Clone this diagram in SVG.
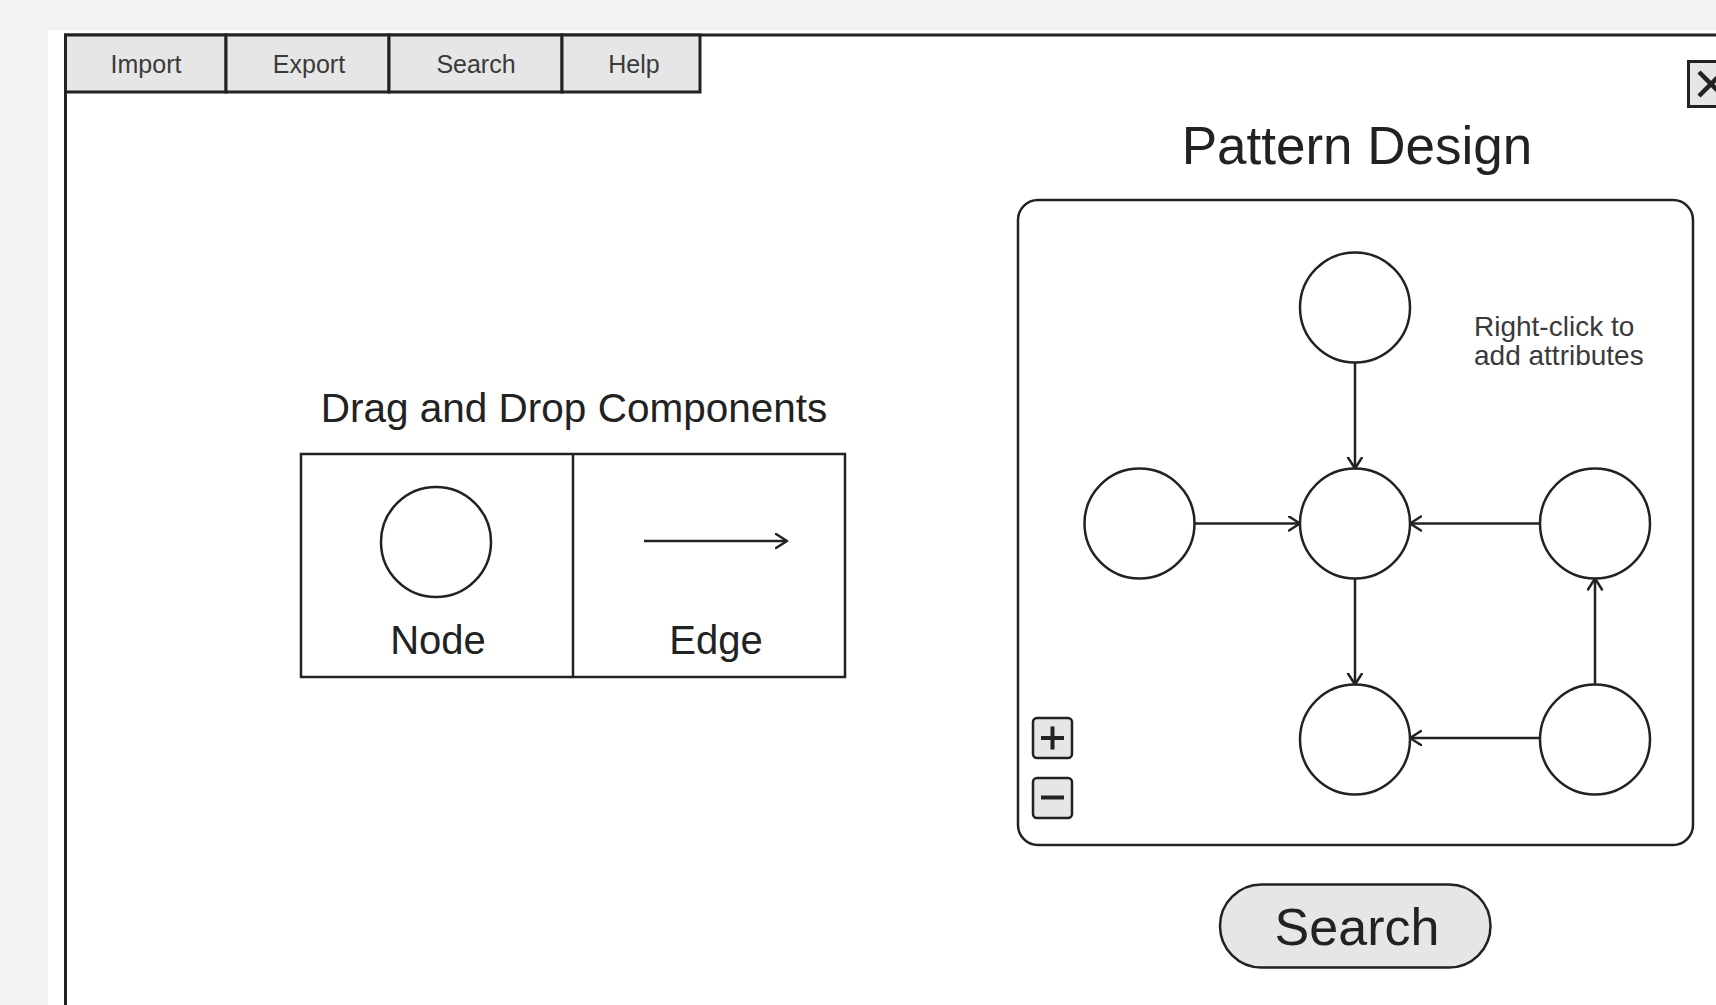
<svg xmlns="http://www.w3.org/2000/svg" width="1716" height="1005" viewBox="0 0 1716 1005">
<style>
.ln{fill:none;stroke:#222;stroke-width:2.5}
.nd{fill:#fff;stroke:#222;stroke-width:2.5}
.tab{fill:#e6e6e6;stroke:#222;stroke-width:3}
.tt{font-family:"Liberation Sans",Arial,sans-serif;font-size:25px;fill:#3a3a3a;text-anchor:middle}
.t{font-family:"Liberation Sans",Arial,sans-serif;fill:#222;text-anchor:middle}
.note{font-family:"Liberation Sans",Arial,sans-serif;font-size:28px;fill:#3a3a3a}
.edge{fill:none;stroke:#222;stroke-width:2.5;marker-end:url(#arr)}
</style>
<defs>
<marker id="arr" markerUnits="userSpaceOnUse" markerWidth="16" markerHeight="18" refX="12" refY="8" orient="auto">
<path d="M1,1 L12,8 L1,15" fill="none" stroke="#222" stroke-width="2.5" stroke-linecap="round" stroke-linejoin="round"/>
</marker>
</defs>
<rect x="0" y="0" width="1716" height="1005" fill="#f2f2f2"/>
<rect x="48" y="30" width="1668" height="975" fill="#fff"/>
<g id="window">
<rect x="65.5" y="35" width="1700" height="1000" fill="#fff" stroke="#222" stroke-width="3"/>
</g>
<g id="menu">
<rect class="tab" x="65.5" y="35" width="160.5" height="57"/>
<rect class="tab" x="226" y="35" width="163" height="57"/>
<rect class="tab" x="389" y="35" width="173" height="57"/>
<rect class="tab" x="562" y="35" width="138" height="57"/>
<text class="tt" x="146" y="73">Import</text>
<text class="tt" x="309" y="73">Export</text>
<text class="tt" x="476" y="73">Search</text>
<text class="tt" x="634" y="73">Help</text>
</g>
<g id="close">
<rect x="1688.5" y="61.5" width="46" height="45" fill="#e6e6e6" stroke="#222" stroke-width="3"/>
<path d="M1699,72 L1723,96 M1723,72 L1699,96" stroke="#222" stroke-width="4.5" fill="none"/>
</g>
<g id="components">
<text class="t" x="574" y="422" font-size="40.5">Drag and Drop Components</text>
<rect class="ln" x="301" y="454" width="544" height="223"/>
<line class="ln" x1="573" y1="454" x2="573" y2="677"/>
<circle class="nd" cx="436" cy="542" r="55"/>
<text class="t" x="438" y="654" font-size="40">Node</text>
<line class="edge" x1="644" y1="541" x2="787" y2="541"/>
<text class="t" x="716" y="654" font-size="40">Edge</text>
</g>
<g id="pattern">
<text class="t" x="1357" y="164" font-size="53">Pattern Design</text>
<rect class="ln" x="1018" y="200" width="675" height="645" rx="20"/>
<text class="note" x="1474" y="336">Right-click to</text>
<text class="note" x="1474" y="365">add attributes</text>
<g id="zoom-in">
<rect x="1033" y="718" width="39" height="40" rx="4" fill="#e6e6e6" stroke="#222" stroke-width="2.5"/>
<path d="M1041,738 L1064,738 M1052.5,726.5 L1052.5,749.5" stroke="#222" stroke-width="4" fill="none"/>
</g>
<g id="zoom-out">
<rect x="1033" y="778" width="39" height="40" rx="4" fill="#e6e6e6" stroke="#222" stroke-width="2.5"/>
<path d="M1041,797.5 L1064,797.5" stroke="#222" stroke-width="4" fill="none"/>
</g>
</g>
<g id="connectors">
<line class="edge" x1="1355" y1="362.5" x2="1355" y2="468.5"/>
<line class="edge" x1="1194.5" y1="523.5" x2="1300" y2="523.5"/>
<line class="edge" x1="1540" y1="523.5" x2="1410" y2="523.5"/>
<line class="edge" x1="1355" y1="578.5" x2="1355" y2="684.5"/>
<line class="edge" x1="1595" y1="684.5" x2="1595" y2="578.5"/>
<line class="edge" x1="1540" y1="738" x2="1410" y2="738"/>
</g>
<g id="n1"><circle class="nd" cx="1355" cy="307.5" r="55"/></g>
<g id="n2"><circle class="nd" cx="1139.5" cy="523.5" r="55"/></g>
<g id="n3"><circle class="nd" cx="1355" cy="523.5" r="55"/></g>
<g id="n4"><circle class="nd" cx="1595" cy="523.5" r="55"/></g>
<g id="n5"><circle class="nd" cx="1355" cy="739.5" r="55"/></g>
<g id="n6"><circle class="nd" cx="1595" cy="739.5" r="55"/></g>
<g id="search-btn">
<rect x="1220" y="884.5" width="270.5" height="83" rx="41.5" fill="#e6e6e6" stroke="#222" stroke-width="2.5"/>
<text class="t" x="1357" y="945" font-size="52">Search</text>
</g>
</svg>
